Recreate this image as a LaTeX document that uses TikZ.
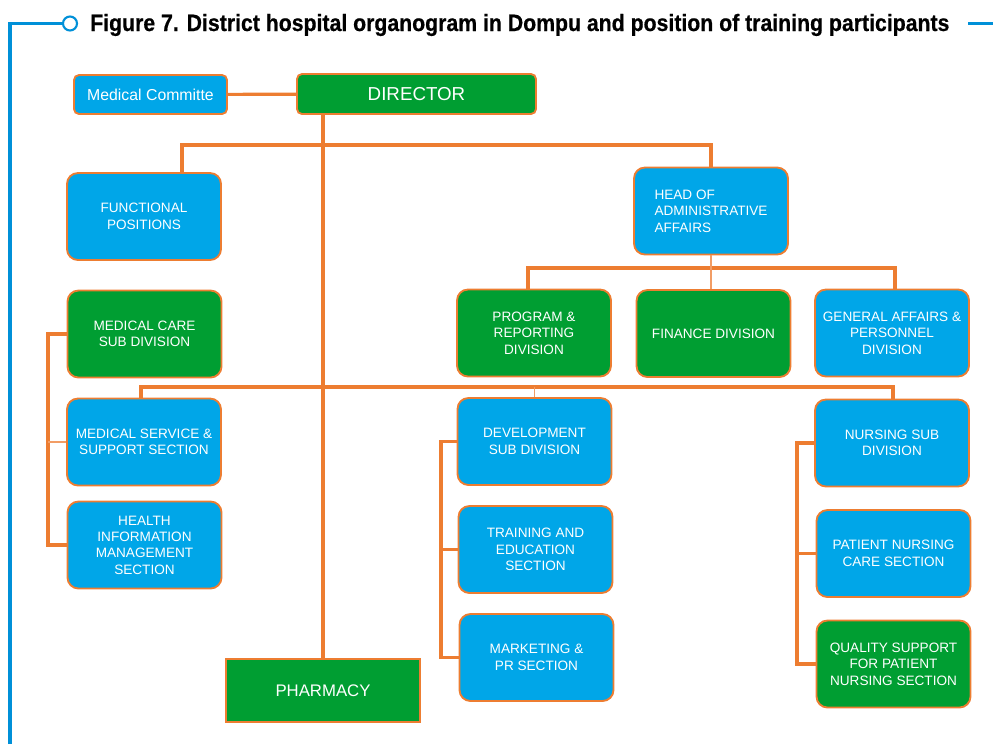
\documentclass[tikz,border=0pt]{standalone}
\usepackage{fontspec}
\setmainfont{Liberation Sans}
\newfontfamily\titlefont[BoldFeatures={FakeBold=0.6}]{Liberation Sans}
\usetikzlibrary{positioning}
\definecolor{hblue}{RGB}{0,166,232}
\definecolor{hgreen}{RGB}{0,158,50}
\definecolor{horange}{RGB}{237,125,49}
\definecolor{tblue}{RGB}{0,144,216}

\begin{document}
\begin{tikzpicture}[x=0.03cm, y=-0.03cm,
    unit/.style={draw=horange, line width=1.6pt, rounded corners=0.33cm, text=white, align=center,
        minimum width=4.62cm, minimum height=2.61cm, inner sep=1pt, font=\fontsize{11.6}{14}\selectfont},
    blu/.style={unit, fill=hblue},
    grn/.style={unit, fill=hgreen},
    link/.style={draw=horange, line width=2.7pt},
    thinlink/.style={draw=horange!75, line width=1.3pt},
    frame/.style={draw=tblue, line width=2.6pt}]
    \useasboundingbox (0,0) rectangle (993,744);

    \coordinate (lb) at (10,744);
    \coordinate (lt) at (10,23.5);
    \coordinate (rt) at (968,23.5);
    \coordinate (re) at (993,23.5);
    \node[circle, draw=tblue, line width=1.8pt, fill=white, minimum size=0.42cm, inner sep=0pt] (ring) at (70,23.5) {};
    \node[anchor=base west, inner sep=0pt, font=\titlefont\fontsize{18.7}{22}\selectfont\bfseries] (ttl) at (90,31)
        {\scalebox{0.97}[1.08]{Figure 7. District hospital organogram in Dompu and position of training participants}};
    \draw[frame] (lb) -- (lt) -- (ring.west);
    \draw[frame] (rt) -- (re);

    \node[blu, rounded corners=0.15cm, minimum width=4.59cm, minimum height=1.17cm,
        font=\fontsize{13.5}{16}\selectfont] (comm) at (150.5,94.5) {Medical Committe};
    \node[grn, rounded corners=0.15cm, minimum width=7.17cm, minimum height=1.2cm,
        font=\fontsize{16}{19}\selectfont] (dir) at (416.5,94) {DIRECTOR};
    \node[grn, sharp corners, minimum width=5.82cm, minimum height=1.89cm,
        font=\fontsize{14.3}{17}\selectfont] (pharm) at (323,690.5) {PHARMACY};

    \node[blu] (func) at (144,216.5) {FUNCTIONAL\\POSITIONS};
    \node[blu, align=left] (hoa) at (711,211) {HEAD OF\\ADMINISTRATIVE\\AFFAIRS};
    \node[grn] (prog) at (534,333) {PROGRAM \&\\REPORTING\\DIVISION};
    \node[grn] (fin) at (713.5,333.5) {FINANCE DIVISION};
    \node[blu] (gen) at (892,333) {GENERAL AFFAIRS \&\\PERSONNEL\\DIVISION};

    \node[grn] (medc) at (144.5,334) {MEDICAL CARE\\SUB DIVISION};
    \node[blu] (mss) at (144,442) {MEDICAL SERVICE \&\\SUPPORT SECTION};
    \node[blu] (him) at (144.5,545) {HEALTH\\INFORMATION\\MANAGEMENT\\SECTION};

    \node[blu] (dev) at (534.5,441.5) {DEVELOPMENT\\SUB DIVISION};
    \node[blu] (train) at (535.5,549.5) {TRAINING AND\\EDUCATION\\SECTION};
    \node[blu] (mkt) at (536.5,657.5) {MARKETING \&\\PR SECTION};

    \node[blu] (nurs) at (892,443) {NURSING SUB\\DIVISION};
    \node[blu] (care) at (893.5,553.5) {PATIENT NURSING\\CARE SECTION};
    \node[grn] (qual) at (893.5,664) {QUALITY SUPPORT\\FOR PATIENT\\NURSING SECTION};

    \coordinate (b1) at (182,145);
    \coordinate (b2) at (528,268);
    \coordinate (b2r) at (895,268);
    \coordinate (b3) at (141,387);
    \coordinate (b3r) at (893,387);
    \coordinate (k1) at (48,0);
    \coordinate (k2) at (441,0);
    \coordinate (k3) at (797,0);

    \draw[link]
    (comm) edge (dir)
    (pharm.north |- dir.south) edge (pharm.north);
    \draw[link] (b1 |- func.north) -- (b1) -- (b1 -| hoa.north) -- (hoa.north);
    \draw[link] (b2 |- prog.north) -- (b2) -- (b2r) -- (b2r |- gen.north);
    \draw[link] (b3 |- mss.north) -- (b3) -- (b3r) -- (b3r |- nurs.north);
    \draw[link] (medc.west) -- (medc.west -| k1) -- (him.west -| k1) -- (him.west);
    \draw[link] (dev.west) -- (dev.west -| k2) -- (mkt.west -| k2) -- (mkt.west);
    \draw[link] (nurs.west) -- (nurs.west -| k3) -- (qual.west -| k3) -- (qual.west);
    \draw[link] (train.west -| k2) -- (train.west);
    \draw[link] (care.west -| k3) -- (care.west);
    \draw[thinlink]
    (hoa.south) edge (hoa.south |- fin.north)
    (dev.north |- b3) edge (dev.north)
    (mss.west -| k1) edge (mss.west);
\end{tikzpicture}
\end{document}
